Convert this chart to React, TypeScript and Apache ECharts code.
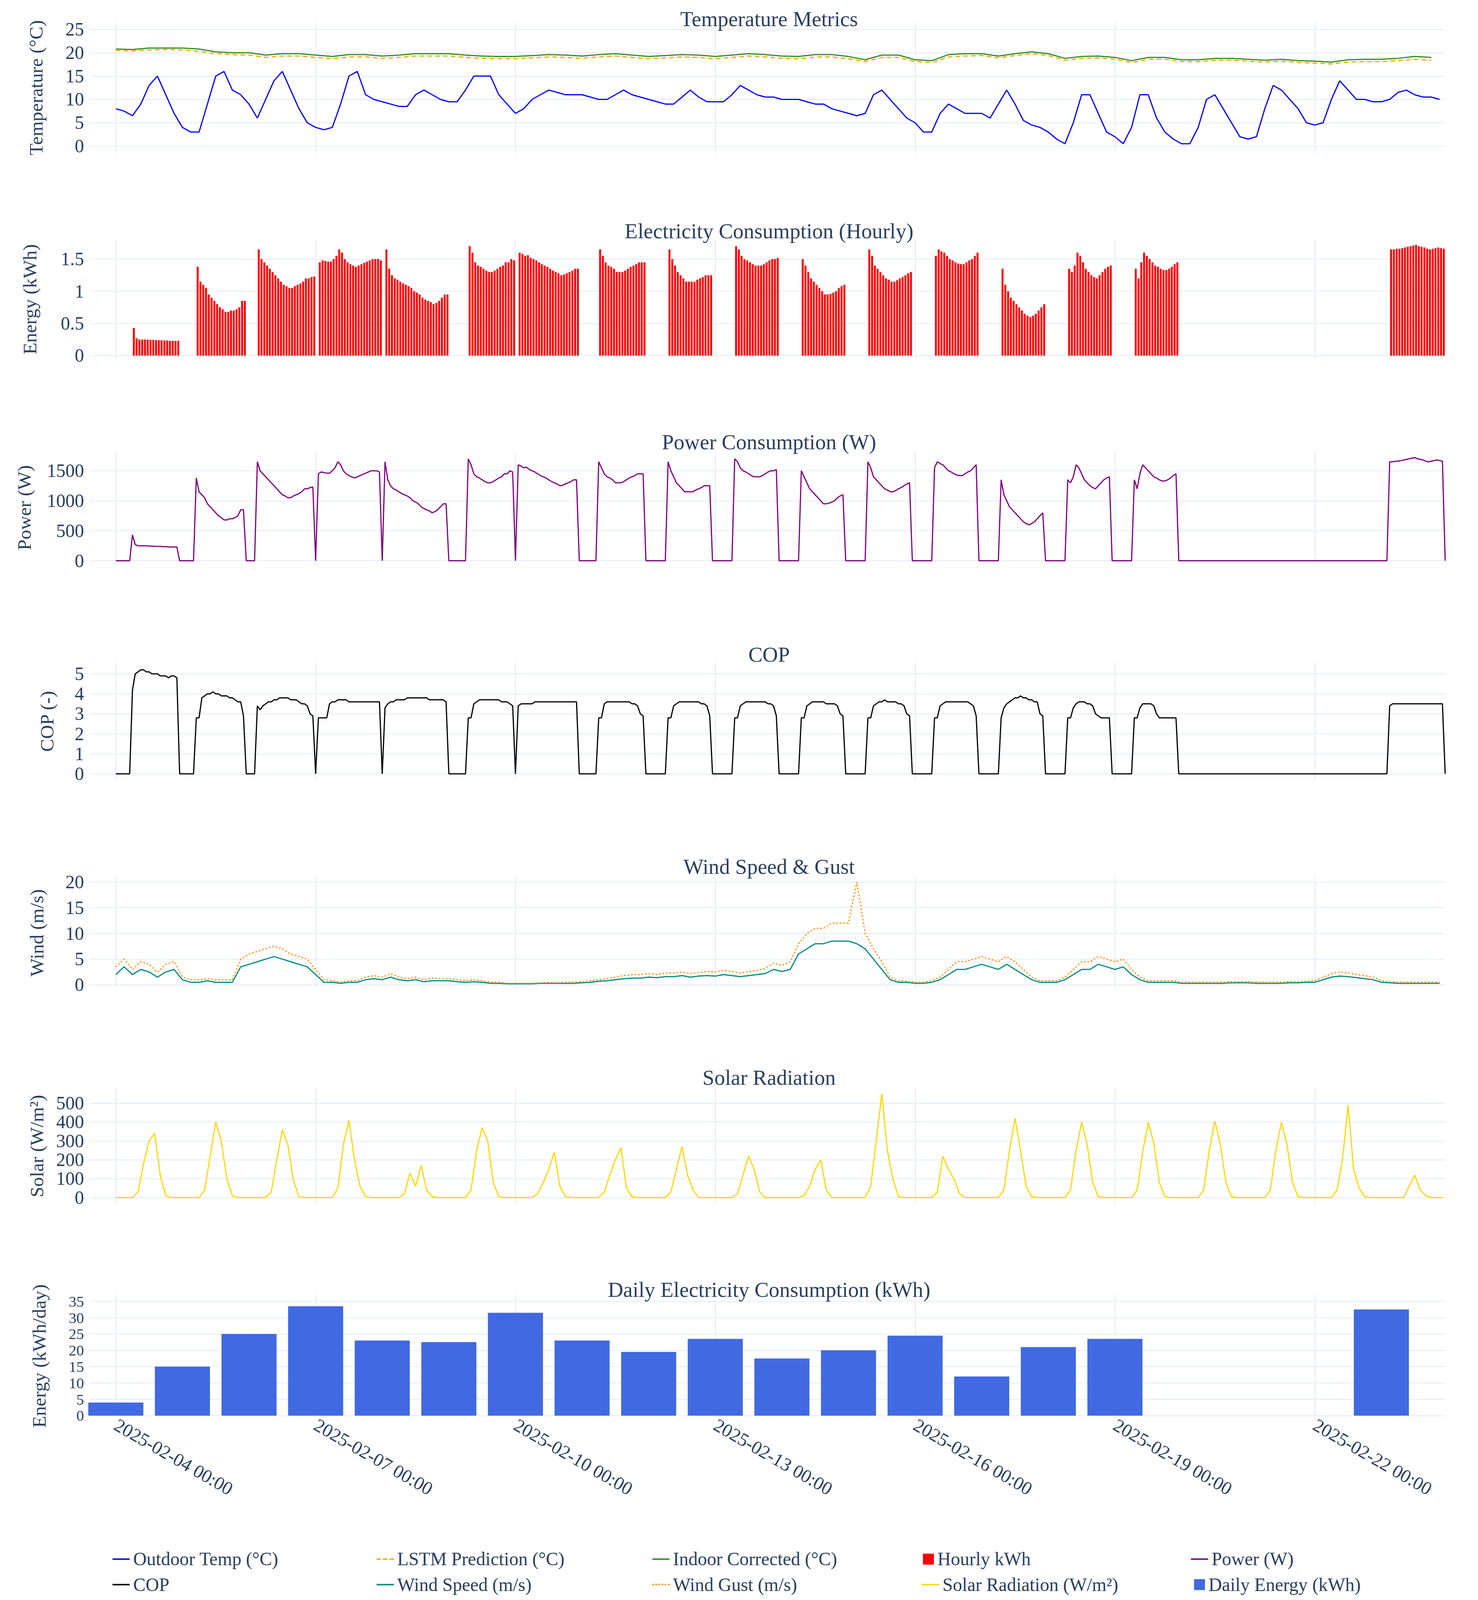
import React, { useEffect, useRef } from "react";
import * as echarts from "echarts";

// ---- time axis: hours since 2025-02-04 00:00 ----
const xTickHours = [0, 72, 144, 216, 288, 360, 432];

// Outdoor temperature, every 3 h (8 per day), 02-04 .. 02-23
const outdoorTemp3h = [
  8, 7.5, 6.5, 9, 13, 15, 11, 7,
  4, 3, 3, 9, 15, 16, 12, 11,
  9, 6, 10, 14, 16, 12, 8, 5,
  4, 3.5, 4, 9, 15, 16, 11, 10,
  9.5, 9, 8.5, 8.5, 11, 12, 11, 10,
  9.5, 9.5, 12, 15, 15, 15, 11, 9,
  7, 8, 10, 11, 12, 11.5, 11, 11,
  11, 10.5, 10, 10, 11, 12, 11, 10.5,
  10, 9.5, 9, 9, 10.5, 12, 10.5, 9.5,
  9.5, 9.5, 11, 13, 12, 11, 10.5, 10.5,
  10, 10, 10, 9.5, 9, 9, 8, 7.5,
  7, 6.5, 7, 11, 12, 10, 8, 6,
  5, 3, 3, 7, 9, 8, 7, 7,
  7, 6, 9, 12, 9, 5.5, 4.5, 4,
  3, 1.5, 0.5, 5, 11, 11, 7, 3,
  2, 0.5, 4, 11, 11, 6, 3, 1.5,
  0.5, 0.5, 4, 10, 11, 8, 5, 2,
  1.5, 2, 8, 13, 12, 10, 8, 5,
  4.5, 5, 10, 14, 12, 10, 10, 9.5,
  9.5, 10, 11.5, 12, 11, 10.5, 10.5, 10,
];

// Indoor corrected & LSTM prediction, every 6 h
const indoorCorrected6h = [
  20.8, 20.7, 21.0, 21.0, 21.0, 20.8, 20.2, 20.0, 20.0, 19.5, 19.8, 19.8,
  19.5, 19.2, 19.6, 19.6, 19.3, 19.5, 19.8, 19.8, 19.8, 19.5, 19.3, 19.2,
  19.2, 19.4, 19.6, 19.5, 19.3, 19.6, 19.8, 19.5, 19.2, 19.4, 19.6, 19.5,
  19.2, 19.5, 19.8, 19.6, 19.3, 19.2, 19.6, 19.6, 19.2, 18.5, 19.5, 19.5,
  18.5, 18.3, 19.6, 19.8, 19.8, 19.3, 19.8, 20.2, 19.8, 18.8, 19.2, 19.3,
  19.0, 18.3, 19.0, 19.0, 18.5, 18.5, 18.8, 18.8, 18.6, 18.4, 18.6, 18.3,
  18.2, 18.0, 18.5, 18.6, 18.6, 18.8, 19.2, 19.0,
];
const lstmPrediction6h = [
  20.5, 20.4, 20.6, 20.7, 20.6, 20.3, 19.8, 19.6, 19.5, 19.0, 19.3, 19.3,
  19.0, 18.7, 19.1, 19.1, 18.8, 19.0, 19.3, 19.3, 19.3, 19.0, 18.8, 18.7,
  18.7, 18.9, 19.1, 19.0, 18.8, 19.1, 19.3, 19.0, 18.7, 18.9, 19.1, 19.0,
  18.7, 19.0, 19.3, 19.1, 18.8, 18.7, 19.1, 19.1, 18.7, 18.1, 19.0, 19.0,
  18.1, 17.9, 19.1, 19.3, 19.4, 18.9, 19.4, 19.8, 19.4, 18.4, 18.8, 18.9,
  18.6, 17.9, 18.6, 18.6, 18.1, 18.1, 18.4, 18.4, 18.2, 18.0, 18.2, 17.9,
  17.8, 17.6, 18.0, 18.1, 18.1, 18.3, 18.6, 18.4,
];

// Power (W): first "on" hour of each day and the hourly values while on
const powerStartHour = [6, 5, 3, 1, 1, 7, 1, 6, 7, 7, 7, 7, 7, 7, 7, 7, 0, 0, 0, 3];
const powerOnValues = [
  [430, 270, 250, 250, 250, 250, 245, 245, 240, 240, 240, 235, 235, 230, 230, 230, 230],
  [1380, 1150, 1100, 1050, 950, 900, 850, 800, 750, 720, 680, 680, 700, 700, 720, 750, 850, 850],
  [1650, 1500, 1450, 1400, 1350, 1300, 1250, 1200, 1150, 1100, 1080, 1050, 1050, 1080, 1100, 1120, 1150, 1200, 1200, 1220, 1230],
  [1450, 1480, 1470, 1460, 1460, 1500, 1550, 1650, 1600, 1500, 1450, 1420, 1400, 1380, 1400, 1420, 1440, 1460, 1480, 1500, 1500, 1500, 1480],
  [1650, 1350, 1250, 1200, 1180, 1150, 1120, 1100, 1080, 1050, 1000, 980, 950, 900, 870, 850, 830, 800, 820, 850, 900, 950, 950],
  [1700, 1600, 1450, 1400, 1380, 1350, 1320, 1300, 1300, 1320, 1350, 1380, 1400, 1450, 1450, 1500, 1480],
  [1600, 1580, 1550, 1560, 1520, 1500, 1480, 1450, 1420, 1400, 1380, 1350, 1320, 1300, 1280, 1250, 1260, 1280, 1300, 1320, 1350, 1350],
  [1650, 1550, 1450, 1400, 1380, 1350, 1300, 1300, 1300, 1320, 1350, 1380, 1400, 1420, 1450, 1450, 1450],
  [1650, 1500, 1400, 1300, 1250, 1200, 1150, 1150, 1150, 1150, 1180, 1200, 1220, 1250, 1250, 1250],
  [1700, 1650, 1550, 1500, 1480, 1450, 1420, 1400, 1400, 1400, 1420, 1450, 1480, 1500, 1500, 1520],
  [1500, 1400, 1300, 1200, 1150, 1100, 1050, 1000, 950, 950, 960, 980, 1000, 1050, 1080, 1100],
  [1650, 1550, 1400, 1350, 1300, 1250, 1200, 1180, 1150, 1150, 1170, 1200, 1220, 1250, 1280, 1300],
  [1550, 1650, 1620, 1600, 1550, 1500, 1480, 1450, 1430, 1420, 1420, 1450, 1480, 1500, 1550, 1600],
  [1350, 1100, 1000, 900, 850, 800, 750, 700, 650, 620, 600, 620, 650, 700, 750, 800],
  [1350, 1300, 1400, 1600, 1550, 1450, 1350, 1300, 1250, 1220, 1200, 1250, 1300, 1350, 1380, 1400],
  [1350, 1200, 1450, 1600, 1550, 1500, 1450, 1400, 1380, 1350, 1330, 1330, 1350, 1380, 1420, 1450],
  [], [], [],
  [1650, 1650, 1660, 1660, 1670, 1680, 1690, 1700, 1710, 1720, 1700, 1690, 1680, 1660, 1650, 1660, 1670, 1680, 1670, 1660],
];

// COP while on (same on-hours as power)
const copOnValues = [
  [4.2, 5.0, 5.1, 5.2, 5.2, 5.1, 5.1, 5.0, 5.0, 5.0, 4.9, 4.9, 4.9, 4.8, 4.9, 4.9, 4.8],
  [2.8, 2.8, 3.8, 3.9, 4.0, 4.0, 4.1, 4.0, 4.0, 3.9, 3.9, 3.9, 3.8, 3.8, 3.7, 3.6, 3.6, 2.9],
  [3.4, 3.2, 3.4, 3.5, 3.6, 3.6, 3.7, 3.7, 3.8, 3.8, 3.8, 3.8, 3.7, 3.7, 3.7, 3.6, 3.5, 3.5, 3.4, 3.0, 2.9],
  [2.8, 2.8, 2.8, 2.8, 3.5, 3.6, 3.6, 3.7, 3.7, 3.7, 3.7, 3.6, 3.6, 3.6, 3.6, 3.6, 3.6, 3.6, 3.6, 3.6, 3.6, 3.6, 3.6],
  [3.3, 3.5, 3.6, 3.6, 3.7, 3.7, 3.7, 3.7, 3.8, 3.8, 3.8, 3.8, 3.8, 3.8, 3.8, 3.8, 3.7, 3.7, 3.7, 3.7, 3.7, 3.7, 3.6],
  [2.8, 2.8, 3.5, 3.6, 3.7, 3.7, 3.7, 3.7, 3.7, 3.7, 3.7, 3.7, 3.6, 3.6, 3.6, 3.5, 3.4],
  [3.4, 3.5, 3.5, 3.5, 3.5, 3.5, 3.6, 3.6, 3.6, 3.6, 3.6, 3.6, 3.6, 3.6, 3.6, 3.6, 3.6, 3.6, 3.6, 3.6, 3.6, 3.6],
  [2.8, 2.8, 3.5, 3.6, 3.6, 3.6, 3.6, 3.6, 3.6, 3.6, 3.6, 3.6, 3.5, 3.5, 3.4, 3.0, 2.9],
  [2.8, 2.8, 3.4, 3.5, 3.6, 3.6, 3.6, 3.6, 3.6, 3.6, 3.6, 3.6, 3.5, 3.5, 3.4, 2.9],
  [2.8, 2.8, 3.4, 3.5, 3.6, 3.6, 3.6, 3.6, 3.6, 3.6, 3.6, 3.6, 3.5, 3.5, 3.4, 2.9],
  [2.8, 2.8, 3.4, 3.5, 3.6, 3.6, 3.6, 3.6, 3.6, 3.5, 3.5, 3.5, 3.5, 3.4, 3.0, 2.9],
  [2.8, 2.8, 3.4, 3.5, 3.6, 3.6, 3.7, 3.6, 3.6, 3.6, 3.6, 3.5, 3.5, 3.4, 3.0, 2.9],
  [2.8, 2.8, 3.4, 3.5, 3.6, 3.6, 3.6, 3.6, 3.6, 3.6, 3.6, 3.6, 3.6, 3.5, 3.4, 2.9],
  [2.8, 3.3, 3.5, 3.6, 3.7, 3.8, 3.8, 3.9, 3.8, 3.8, 3.7, 3.7, 3.6, 3.6, 3.0, 2.9],
  [2.8, 2.8, 3.3, 3.5, 3.6, 3.6, 3.6, 3.5, 3.5, 3.4, 3.0, 2.9, 2.8, 2.8, 2.8, 2.8],
  [2.8, 2.8, 3.3, 3.5, 3.5, 3.5, 3.5, 3.4, 3.0, 2.8, 2.8, 2.8, 2.8, 2.8, 2.8, 2.8],
  [], [], [],
  [3.4, 3.5, 3.5, 3.5, 3.5, 3.5, 3.5, 3.5, 3.5, 3.5, 3.5, 3.5, 3.5, 3.5, 3.5, 3.5, 3.5, 3.5, 3.5, 3.5],
];

// Wind speed & gust, every 3 h
const windSpeed3h = [
  2, 3.5, 2, 3, 2.5, 1.5, 2.5, 3,
  1, 0.5, 0.5, 0.8, 0.5, 0.5, 0.5, 3.5,
  4, 4.5, 5, 5.5, 5, 4.5, 4, 3.5,
  2, 0.5, 0.5, 0.3, 0.5, 0.5, 1, 1.2,
  1, 1.5, 1, 0.8, 1, 0.6, 0.8, 0.8,
  0.8, 0.6, 0.5, 0.6, 0.5, 0.3, 0.3, 0.2,
  0.2, 0.2, 0.2, 0.3, 0.3, 0.3, 0.3, 0.3,
  0.4, 0.5, 0.7, 0.8, 1, 1.2, 1.3, 1.3,
  1.5, 1.4, 1.6, 1.6, 1.8, 1.5, 1.7, 1.8,
  1.7, 2, 1.8, 1.6, 1.8, 2, 2.2, 3,
  2.6, 3, 6, 7, 8, 8, 8.5, 8.5,
  8.5, 8, 7, 5, 3, 1, 0.5, 0.5,
  0.3, 0.3, 0.5, 1, 2, 3, 3, 3.5,
  4, 3.5, 3, 4, 3, 2, 1, 0.5,
  0.5, 0.5, 1, 2, 3, 3, 4, 3.5,
  3, 3.5, 2, 1, 0.5, 0.5, 0.5, 0.5,
  0.3, 0.3, 0.3, 0.3, 0.3, 0.3, 0.4, 0.4,
  0.4, 0.3, 0.3, 0.3, 0.3, 0.4, 0.4, 0.5,
  0.5, 1, 1.5, 1.7, 1.6, 1.4, 1.2, 1,
  0.5, 0.4, 0.3, 0.3, 0.3, 0.3, 0.3, 0.3,
];
const windGust3h = [
  3.5, 5, 3, 4.5, 4, 2.5, 4, 4.5,
  1.5, 1, 1, 1.2, 1, 1, 1, 5,
  6, 6.5, 7, 7.5, 7, 6, 5.5, 5,
  3, 1, 0.8, 0.5, 0.8, 0.8, 1.5, 1.8,
  1.5, 2.2, 1.5, 1.2, 1.5, 1, 1.3, 1.2,
  1.2, 1, 0.8, 1, 0.8, 0.5, 0.5, 0.3,
  0.3, 0.3, 0.3, 0.4, 0.5, 0.4, 0.5, 0.5,
  0.6, 0.8, 1, 1.2, 1.5, 1.8, 2, 2,
  2.2, 2, 2.3, 2.3, 2.5, 2.2, 2.4, 2.6,
  2.5, 2.8, 2.6, 2.3, 2.6, 2.8, 3.2, 4.2,
  3.8, 4.5, 8, 10, 11, 11, 12, 12,
  12, 20, 10, 7, 4.5, 1.5, 0.8, 0.7,
  0.5, 0.5, 0.8, 1.5, 3, 4.5, 4.5, 5,
  5.5, 5, 4.5, 5.5, 4.5, 3, 1.5, 0.8,
  0.8, 0.8, 1.5, 3, 4.5, 4.5, 5.5, 5,
  4.5, 5, 3, 1.5, 0.8, 0.8, 0.8, 0.8,
  0.5, 0.5, 0.5, 0.5, 0.5, 0.5, 0.6, 0.6,
  0.6, 0.5, 0.5, 0.5, 0.5, 0.6, 0.6, 0.7,
  0.8, 1.5, 2.2, 2.5, 2.3, 2, 1.8, 1.5,
  0.8, 0.6, 0.5, 0.5, 0.5, 0.5, 0.5, 0.5,
];

// Solar radiation, every 2 h (12 per day)
const solar2h = [
  0, 0, 0, 0, 30, 180, 300, 340, 120, 10, 0, 0,
  0, 0, 0, 0, 40, 220, 400, 300, 100, 10, 0, 0,
  0, 0, 0, 0, 30, 200, 360, 280, 90, 5, 0, 0,
  0, 0, 0, 0, 50, 280, 410, 200, 60, 5, 0, 0,
  0, 0, 0, 0, 20, 130, 60, 170, 40, 5, 0, 0,
  0, 0, 0, 0, 40, 250, 370, 300, 80, 5, 0, 0,
  0, 0, 0, 0, 20, 80, 150, 240, 60, 5, 0, 0,
  0, 0, 0, 0, 30, 120, 200, 265, 50, 5, 0, 0,
  0, 0, 0, 0, 30, 150, 270, 120, 40, 0, 0, 0,
  0, 0, 0, 0, 20, 120, 220, 150, 30, 0, 0, 0,
  0, 0, 0, 0, 10, 60, 150, 200, 40, 0, 0, 0,
  0, 0, 0, 0, 60, 300, 550, 250, 100, 5, 0, 0,
  0, 0, 0, 0, 30, 220, 150, 100, 20, 0, 0, 0,
  0, 0, 0, 0, 40, 250, 420, 250, 60, 5, 0, 0,
  0, 0, 0, 0, 40, 250, 400, 280, 80, 5, 0, 0,
  0, 0, 0, 0, 40, 240, 400, 290, 80, 5, 0, 0,
  0, 0, 0, 0, 40, 250, 405, 280, 80, 5, 0, 0,
  0, 0, 0, 0, 40, 250, 400, 280, 80, 5, 0, 0,
  0, 0, 0, 0, 40, 200, 490, 150, 50, 5, 0, 0,
  0, 0, 0, 0, 0, 60, 120, 40, 10, 0, 0, 0,
];

// Daily energy (kWh/day) at day starts
const dailyDayIndex = [0, 1, 2, 3, 4, 5, 6, 7, 8, 9, 10, 11, 12, 13, 14, 15, 19];
const dailyEnergy = [4, 15, 25, 33.5, 23, 22.5, 31.5, 23, 19.5, 23.5, 17.5, 20, 24.5, 12, 21, 23.5, 32.5];

// ---- helpers ----
const expandDay = (start: number, vals: number[]) => {
  const a = new Array(24).fill(0);
  vals.forEach((v, i) => { if (start + i < 24) a[start + i] = v; });
  return a;
};
const powerHourly: number[] = powerOnValues.flatMap((v, d) => expandDay(powerStartHour[d], v));
const copHourly: number[] = copOnValues.flatMap((v, d) => expandDay(powerStartHour[d], v));
const step = (arr: number[], h: number) => arr.map((v, i) => [i * h, v]);

const pad = (n: number) => String(n).padStart(2, "0");
const fmtHour = (h: number) => {
  const d = new Date(Date.UTC(2025, 1, 4) + h * 3600e3);
  return `${d.getUTCFullYear()}-${pad(d.getUTCMonth() + 1)}-${pad(d.getUTCDate())} ${pad(d.getUTCHours())}:${pad(d.getUTCMinutes())}`;
};

const FONT = "Liberation Serif";
const TXT = "#2a3f5f";
const GRIDC = "#ebf0f8";
const W = 3784;
const H = 4096;
const K = H / 5279; // vertical scale: the viewport is shorter than the reference
const FS = 0.88; // font scale

const panels = [
  { title: "Temperature Metrics", name: "Temperature (°C)", top: 74, h: 431, min: -1.5, max: 26.5, ticks: [0, 5, 10, 15, 20, 25], gap: 112, ty: 57, lf: 1 },
  { title: "Electricity Consumption (Hourly)", name: "Energy (kWh)", top: 791, h: 393, min: -0.05, max: 1.8, ticks: [0, 0.5, 1, 1.5], gap: 128, ty: 757, lf: 1 },
  { title: "Power Consumption (W)", name: "Power (W)", top: 1490, h: 370, min: -50, max: 1820, ticks: [0, 500, 1000, 1500], gap: 142, ty: 1453, lf: 1 },
  { title: "COP", name: "COP (-)", top: 2187, h: 386, min: -0.3, max: 5.55, ticks: [0, 1, 2, 3, 4, 5], gap: 84, ty: 2153, lf: 1 },
  { title: "Wind Speed & Gust", name: "Wind (m/s)", top: 2893, h: 370, min: -0.8, max: 21, ticks: [0, 5, 10, 15, 20], gap: 110, ty: 2853, lf: 1 },
  { title: "Solar Radiation", name: "Solar (W/m²)", top: 3593, h: 377, min: -30, max: 575, ticks: [0, 100, 200, 300, 400, 500], gap: 110, ty: 3549, lf: 1 },
  { title: "Daily Electricity Consumption (kWh)", name: "Energy (kWh/day)", top: 4272, h: 404, min: -0.5, max: 37, ticks: [0, 5, 10, 15, 20, 25, 30, 35], gap: 104, ty: 4249, lf: 0.82 },
];

const dashIcon = "path://M0,0h6v2h-6z M9,0h6v2h-6z M18,0h6v2h-6z";
const dotIcon = "path://M0,0h2v2h-2z M4,0h2v2h-2z M8,0h2v2h-2z M12,0h2v2h-2z M16,0h2v2h-2z M20,0h2v2h-2z";
const solidIcon = "path://M0,0h24v2h-24z";

export default function App() {
  const ref = useRef<HTMLDivElement>(null);
  useEffect(() => {
    document.body.style.margin = "0";
    const chart = echarts.init(ref.current!, null, { renderer: "svg" });
    const last = panels.length - 1;
    const grids = panels.map((p) => ({ left: 229, right: 84, top: p.top * K, height: p.h * K }));
    const xAxes = panels.map((p, i) => ({
      type: "value", gridIndex: i, min: -9.5, max: 479,
      axisLine: { show: false },
      axisTick: { show: false, customValues: xTickHours },
      splitLine: { show: true, lineStyle: { color: GRIDC, width: 3 } },
      axisLabel: {
        show: i === last, customValues: xTickHours, rotate: -30, formatter: (v: number) => fmtHour(v),
        fontFamily: FONT, fontSize: 54 * FS, color: TXT, margin: 16,
      },
    }));
    const yAxes = panels.map((p, i) => ({
      type: "value", gridIndex: i, min: p.min, max: p.max,
      name: p.name, nameLocation: "middle", nameGap: p.gap,
      nameTextStyle: { fontFamily: FONT, fontSize: 56 * FS, color: TXT },
      axisLine: { show: false },
      axisTick: { show: false, customValues: p.ticks },
      splitLine: { show: true, lineStyle: { color: GRIDC, width: 3 } },
      axisLabel: {
        customValues: p.ticks, fontFamily: FONT, fontSize: 54 * FS * p.lf, color: TXT, margin: 14,
        hideOverlap: false, formatter: (v: number) => String(v),
      },
    }));
    const titles = panels.map((p) => ({
      text: p.title, left: 1964, top: p.ty * K - 28, textAlign: "center",
      textStyle: { fontFamily: FONT, fontSize: 62 * FS, fontWeight: "normal", color: TXT },
    }));
    const line = (name: string, data: any[], ax: number, color: string, type: any = "solid", width = 3) => ({
      name, type: "line", data, xAxisIndex: ax, yAxisIndex: ax, symbol: "none",
      lineStyle: { color, width, type }, itemStyle: { color }, z: 3,
    });
    const series: any[] = [
      line("Outdoor Temp (°C)", step(outdoorTemp3h, 3), 0, "#0000ff"),
      line("LSTM Prediction (°C)", step(lstmPrediction6h, 6), 0, "#ffa500", [12, 8]),
      line("Indoor Corrected (°C)", step(indoorCorrected6h, 6), 0, "#2e8b1e"),
      {
        name: "Hourly kWh", type: "bar", xAxisIndex: 1, yAxisIndex: 1, barWidth: 5,
        data: powerHourly.map((v, i) => [i + 0.5, v / 1000]), itemStyle: { color: "#ff0000" },
      },
      line("Power (W)", step(powerHourly, 1), 2, "#800080"),
      line("COP", step(copHourly, 1), 3, "#000000"),
      line("Wind Speed (m/s)", step(windSpeed3h, 3), 4, "#008b80"),
      line("Wind Gust (m/s)", step(windGust3h, 3), 4, "#ff8c00", [4, 5]),
      line("Solar Radiation (W/m²)", step(solar2h, 2), 5, "#ffd700"),
      {
        name: "Daily Energy (kWh)", type: "bar", xAxisIndex: 6, yAxisIndex: 6, barWidth: 141,
        data: dailyEnergy.map((v, i) => [dailyDayIndex[i] * 24, v]), itemStyle: { color: "#4169e1" },
      },
    ];
    const legendItems = [
      ["Outdoor Temp (°C)", 283, 0, solidIcon], ["LSTM Prediction (°C)", 959, 0, dashIcon],
      ["Indoor Corrected (°C)", 1665, 0, solidIcon], ["Hourly kWh", 2358, 0, "rect"], ["Power (W)", 3044, 0, solidIcon],
      ["COP", 283, 1, solidIcon], ["Wind Speed (m/s)", 959, 1, solidIcon], ["Wind Gust (m/s)", 1665, 1, dotIcon],
      ["Solar Radiation (W/m²)", 2355, 1, solidIcon], ["Daily Energy (kWh)", 3052, 1, "rect"],
    ] as const;
    const legends = legendItems.map(([n, x, row, icon]) => ({
      data: [n], left: x, top: (row === 0 ? 5130 : 5214) * K - 18, orient: "horizontal",
      itemWidth: icon === "rect" ? 28 : 44, itemHeight: icon === "rect" ? 28 : 4, icon,
      textStyle: { fontFamily: FONT, fontSize: 54 * FS, color: TXT, padding: [0, 0, 0, 4] },
    }));
    chart.setOption({
      animation: false, backgroundColor: "#ffffff",
      title: titles, grid: grids, xAxis: xAxes, yAxis: yAxes, series, legend: legends,
    });
    return () => chart.dispose();
  }, []);
  return <div ref={ref} style={{ width: W, height: H }} />;
}
